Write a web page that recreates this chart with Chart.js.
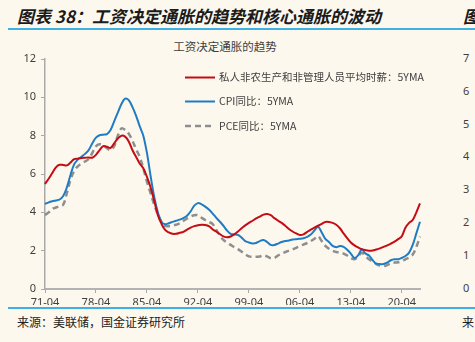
<!DOCTYPE html>
<html>
<head>
<meta charset="utf-8">
<script src="https://cdn.jsdelivr.net/npm/chart.js@4/dist/chart.umd.min.js"></script>
<style>
  html, body { margin: 0; padding: 0; }
  body { width: 475px; height: 342px; background: #fdf8ee; position: relative; overflow: hidden;
         font-family: "Noto Sans CJK SC", "Noto Sans", sans-serif; }
  .title { position: absolute; left: 17px; top: 3px; font-size: 17px; font-weight: bold; font-style: italic; color: #1b1b1b; white-space: nowrap; }
  .rule { position: absolute; left: 8px; right: 0; height: 2px; background: #3db1e3; }
  .source { position: absolute; left: 17px; top: 313px; font-size: 12px; color: #222; white-space: nowrap; }
  .ctitle { position: absolute; left: 0; width: 450px; top: 38px; text-align: center; font-size: 11.5px; color: #404040; }
  .wrap { position: absolute; left: 0; top: 34px; width: 440px; height: 271px; overflow: hidden; }
  .rlab { position: absolute; left: 463px; font-size: 11px; color: #404040; font-family: "Noto Sans", sans-serif; }
</style>
</head>
<body>
<div class="title">图表 38：工资决定通胀的趋势和核心通胀的波动</div>
<div class="title" style="left:463px">图</div>
<div class="rule" style="top:28px"></div>
<div class="ctitle">工资决定通胀的趋势</div>
<div class="wrap"><canvas id="c" width="440" height="300"></canvas></div>
<div class="rule" style="top:307px"></div>
<div class="source">来源：美联储，国金证券研究所</div>
<div class="source" style="left:462px">来</div>
<div id="rightAxis"></div>
<script>
// semi-annual points, 71-04 .. 22-10
const labels = [];
for (let y = 1971; y <= 2022; y++) {
  const yy = String(y).slice(2);
  labels.push(yy + '-04', yy + '-10');
}
const shownTicks = ['71-04', '78-04', '85-04', '92-04', '99-04', '06-04', '13-04', '20-04'];

const wage = [5.48, 5.75, 6.05, 6.35, 6.48, 6.47, 6.45, 6.6, 6.78, 6.8,
  6.84, 6.85, 6.86, 6.85, 7.0, 7.25, 7.45, 7.42, 7.36, 7.6,
  7.85, 8.0, 7.95, 7.7, 7.25, 6.9, 6.55, 6.3, 5.85, 5.3,
  4.6, 3.85, 3.4, 3.08, 2.95, 2.88, 2.88, 2.93, 2.98, 3.1,
  3.2, 3.28, 3.33, 3.35, 3.34, 3.28, 3.12, 3.0, 2.87, 2.75,
  2.7, 2.74, 2.85, 3.0, 3.17, 3.32, 3.45, 3.56, 3.68, 3.78,
  3.88, 3.91, 3.85, 3.7, 3.57, 3.45, 3.3, 3.13, 3.0, 2.9,
  2.82, 2.85, 2.98, 3.1, 3.2, 3.3, 3.4, 3.5, 3.5, 3.45,
  3.35, 3.17, 2.9, 2.65, 2.43, 2.28, 2.17, 2.08, 2.03, 2.0,
  2.01, 2.06, 2.12, 2.2, 2.28, 2.37, 2.47, 2.6, 2.75, 3.2,
  3.45, 3.6, 4.0, 4.47];
const cpi = [4.43, 4.52, 4.58, 4.62, 4.67, 4.85, 5.3, 5.95, 6.5, 6.75,
  6.9, 7.05, 7.25, 7.6, 7.9, 8.02, 8.05, 8.08, 8.3, 8.75,
  9.2, 9.65, 9.93, 9.85, 9.5, 9.05, 8.5, 8.0, 7.1, 5.9,
  4.8, 4.0, 3.5, 3.38, 3.43, 3.5, 3.56, 3.62, 3.7, 3.82,
  4.05, 4.35, 4.48, 4.42, 4.3, 4.15, 3.95, 3.72, 3.52, 3.3,
  3.05, 2.88, 2.85, 2.82, 2.68, 2.5, 2.43, 2.38, 2.4, 2.5,
  2.56, 2.45, 2.3, 2.3, 2.37, 2.45, 2.5, 2.53, 2.58, 2.6,
  2.62, 2.65, 2.72, 2.84, 3.05, 3.25, 2.95, 2.62, 2.45, 2.25,
  2.18, 2.24, 2.2, 2.05, 1.85, 1.62, 1.75, 2.07, 1.85, 1.75,
  1.5, 1.32, 1.3, 1.3, 1.38, 1.5, 1.55, 1.55, 1.62, 1.72,
  1.9, 2.3, 2.9, 3.51];
const pce = [3.86, 4.0, 4.18, 4.25, 4.32, 4.4, 5.0, 5.7, 6.15, 6.4,
  6.55, 6.65, 6.78, 7.1, 7.45, 7.55, 7.5, 7.35, 7.25, 7.45,
  8.0, 8.38, 8.3, 8.1, 7.75, 7.3, 6.9, 6.3, 5.6, 5.0,
  4.4, 3.9, 3.5, 3.29, 3.28, 3.3, 3.35, 3.42, 3.55, 3.68,
  3.78, 3.85, 3.85, 3.72, 3.6, 3.5, 3.4, 3.1, 2.8, 2.56,
  2.42, 2.3, 2.18, 2.08, 1.95, 1.82, 1.7, 1.68, 1.68, 1.7,
  1.75, 1.7, 1.6, 1.62, 1.75, 1.85, 1.93, 2.0, 2.07, 2.15,
  2.24, 2.32, 2.4, 2.5, 2.62, 2.76, 2.5, 2.25, 2.1, 2.0,
  1.93, 1.9, 1.85, 1.75, 1.62, 1.55, 1.7, 1.89, 1.72, 1.55,
  1.43, 1.3, 1.22, 1.2, 1.25, 1.35, 1.38, 1.4, 1.45, 1.55,
  1.65, 1.8, 2.2, 2.73];
const seriesNames = ['私人非农生产和非管理人员平均时薪：5YMA', 'CPI同比：5YMA', 'PCE同比：5YMA'];
const rightTicks = ['7', '6', '5', '4', '3', '2', '1', '0'];

// right neighbour chart's axis, cut off by the page edge
const ra = document.getElementById('rightAxis');
rightTicks.forEach((t, i) => {
  const d = document.createElement('div');
  d.className = 'rlab';
  d.style.top = (50 + i * 32.8) + 'px';
  d.textContent = t;
  ra.appendChild(d);
});

// legend drawn inside the plot, top right
const innerLegend = {
  id: 'innerLegend',
  afterDraw(chart) {
    const ctx = chart.ctx;
    const rows = [43.5, 67.5, 92];
    ctx.save();
    chart.data.datasets.forEach((ds, i) => {
      const y = rows[i];
      ctx.beginPath();
      ctx.strokeStyle = ds.borderColor;
      ctx.lineWidth = ds.borderWidth;
      ctx.setLineDash(ds.borderDash || []);
      ctx.moveTo(185, y);
      ctx.lineTo(215, y);
      ctx.stroke();
      ctx.setLineDash([]);
      ctx.fillStyle = '#404040';
      ctx.font = '10.5px "Noto Sans CJK SC", sans-serif';
      ctx.textBaseline = 'middle';
      ctx.fillText(ds.label, 219, y);
    });
    ctx.restore();
  }
};

new Chart(document.getElementById('c'), {
  type: 'line',
  data: {
    labels: labels,
    datasets: [
      { label: seriesNames[0], data: wage, borderColor: '#c40c14', borderWidth: 2, pointRadius: 0, tension: 0.35 },
      { label: seriesNames[1], data: cpi, borderColor: '#1f7cc4', borderWidth: 2, pointRadius: 0, tension: 0.35 },
      { label: seriesNames[2], data: pce, borderColor: '#8e8e8e', borderWidth: 2.5, borderDash: [6, 4], pointRadius: 0, tension: 0.35 }
    ]
  },
  options: {
    responsive: false,
    animation: false,
    layout: { padding: { top: 25, right: 20, left: 0, bottom: 0 } },
    plugins: { legend: { display: false }, tooltip: { enabled: false } },
    scales: {
      x: {
        grid: { display: true, drawOnChartArea: false, drawTicks: true, tickLength: 4, color: '#a9a9a9' },
        border: { display: true, color: '#b3b3b3', width: 2 },
        ticks: {
          autoSkip: false, maxRotation: 0, padding: 3,
          color: '#404040', font: { size: 11, family: '"Noto Sans", sans-serif' },
          callback: function (v, i) {
            const l = labels[i];
            return shownTicks.includes(l) ? l : null;
          }
        },
        afterFit: s => { s.height = 45; }
      },
      y: {
        min: 0, max: 12,
        grid: { display: true, drawOnChartArea: false, drawTicks: true, tickLength: 4, color: '#a9a9a9' },
        border: { display: true, color: '#a9a9a9', width: 1.5 },
        ticks: { stepSize: 2, padding: 5, color: '#404040', font: { size: 11, family: '"Noto Sans", sans-serif' } },
        afterFit: s => { s.width = 45; }
      }
    }
  },
  plugins: [innerLegend]
});
</script>
</body>
</html>
